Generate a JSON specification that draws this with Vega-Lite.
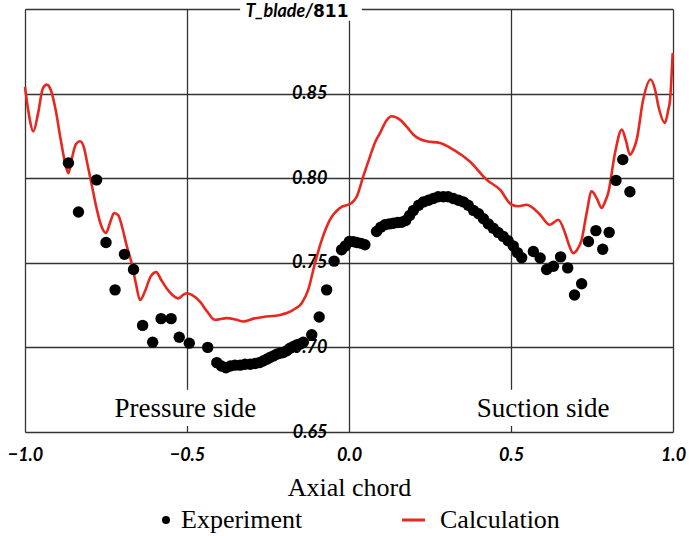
{
  "$schema": "https://vega.github.io/schema/vega-lite/v6.json",
  "width": 648,
  "height": 423,
  "autosize": {"type": "none"},
  "padding": {"left": 25, "top": 9, "right": 16, "bottom": 104},
  "background": "white",
  "config": {
    "view": {"stroke": null},
    "axis": {"gridColor": "#333333", "gridWidth": 1.3, "gridOpacity": 1, "ticks": false, "domain": false,
      "labelFont": "Lato", "labelFontWeight": "bold", "labelFontStyle": "italic", "labelFontSize": 18, "labelColor": "black"}
  },
  "datasets": {
    "exp": [
      {"chord": -0.866, "t": 0.809, "series": "Experiment"},
      {"chord": -0.835, "t": 0.780, "series": "Experiment"},
      {"chord": -0.779, "t": 0.799, "series": "Experiment"},
      {"chord": -0.750, "t": 0.762, "series": "Experiment"},
      {"chord": -0.722, "t": 0.734, "series": "Experiment"},
      {"chord": -0.693, "t": 0.755, "series": "Experiment"},
      {"chord": -0.665, "t": 0.746, "series": "Experiment"},
      {"chord": -0.637, "t": 0.713, "series": "Experiment"},
      {"chord": -0.606, "t": 0.703, "series": "Experiment"},
      {"chord": -0.580, "t": 0.717, "series": "Experiment"},
      {"chord": -0.549, "t": 0.717, "series": "Experiment"},
      {"chord": -0.524, "t": 0.706, "series": "Experiment"},
      {"chord": -0.493, "t": 0.7025, "series": "Experiment"},
      {"chord": -0.436, "t": 0.700, "series": "Experiment"},
      {"chord": -0.408, "t": 0.691, "series": "Experiment"},
      {"chord": -0.394, "t": 0.689, "series": "Experiment"},
      {"chord": -0.380, "t": 0.688, "series": "Experiment"},
      {"chord": -0.366, "t": 0.689, "series": "Experiment"},
      {"chord": -0.352, "t": 0.6895, "series": "Experiment"},
      {"chord": -0.336, "t": 0.6895, "series": "Experiment"},
      {"chord": -0.321, "t": 0.690, "series": "Experiment"},
      {"chord": -0.305, "t": 0.690, "series": "Experiment"},
      {"chord": -0.290, "t": 0.6905, "series": "Experiment"},
      {"chord": -0.277, "t": 0.691, "series": "Experiment"},
      {"chord": -0.265, "t": 0.692, "series": "Experiment"},
      {"chord": -0.254, "t": 0.693, "series": "Experiment"},
      {"chord": -0.244, "t": 0.694, "series": "Experiment"},
      {"chord": -0.233, "t": 0.695, "series": "Experiment"},
      {"chord": -0.223, "t": 0.696, "series": "Experiment"},
      {"chord": -0.213, "t": 0.6966, "series": "Experiment"},
      {"chord": -0.203, "t": 0.697, "series": "Experiment"},
      {"chord": -0.192, "t": 0.698, "series": "Experiment"},
      {"chord": -0.182, "t": 0.6995, "series": "Experiment"},
      {"chord": -0.171, "t": 0.7005, "series": "Experiment"},
      {"chord": -0.161, "t": 0.7015, "series": "Experiment"},
      {"chord": -0.150, "t": 0.702, "series": "Experiment"},
      {"chord": -0.141, "t": 0.703, "series": "Experiment"},
      {"chord": -0.115, "t": 0.7075, "series": "Experiment"},
      {"chord": -0.092, "t": 0.718, "series": "Experiment"},
      {"chord": -0.069, "t": 0.734, "series": "Experiment"},
      {"chord": -0.046, "t": 0.751, "series": "Experiment"},
      {"chord": -0.023, "t": 0.7577, "series": "Experiment"},
      {"chord": -0.011, "t": 0.760, "series": "Experiment"},
      {"chord": 0.001, "t": 0.7626, "series": "Experiment"},
      {"chord": 0.013, "t": 0.7625, "series": "Experiment"},
      {"chord": 0.024, "t": 0.762, "series": "Experiment"},
      {"chord": 0.037, "t": 0.7615, "series": "Experiment"},
      {"chord": 0.049, "t": 0.7607, "series": "Experiment"},
      {"chord": 0.085, "t": 0.7685, "series": "Experiment"},
      {"chord": 0.098, "t": 0.771, "series": "Experiment"},
      {"chord": 0.111, "t": 0.7725, "series": "Experiment"},
      {"chord": 0.124, "t": 0.773, "series": "Experiment"},
      {"chord": 0.137, "t": 0.7734, "series": "Experiment"},
      {"chord": 0.150, "t": 0.7738, "series": "Experiment"},
      {"chord": 0.162, "t": 0.774, "series": "Experiment"},
      {"chord": 0.175, "t": 0.775, "series": "Experiment"},
      {"chord": 0.187, "t": 0.778, "series": "Experiment"},
      {"chord": 0.199, "t": 0.781, "series": "Experiment"},
      {"chord": 0.215, "t": 0.784, "series": "Experiment"},
      {"chord": 0.230, "t": 0.786, "series": "Experiment"},
      {"chord": 0.245, "t": 0.787, "series": "Experiment"},
      {"chord": 0.260, "t": 0.788, "series": "Experiment"},
      {"chord": 0.275, "t": 0.789, "series": "Experiment"},
      {"chord": 0.291, "t": 0.789, "series": "Experiment"},
      {"chord": 0.306, "t": 0.789, "series": "Experiment"},
      {"chord": 0.322, "t": 0.788, "series": "Experiment"},
      {"chord": 0.338, "t": 0.787, "series": "Experiment"},
      {"chord": 0.353, "t": 0.786, "series": "Experiment"},
      {"chord": 0.368, "t": 0.784, "series": "Experiment"},
      {"chord": 0.384, "t": 0.781, "series": "Experiment"},
      {"chord": 0.400, "t": 0.779, "series": "Experiment"},
      {"chord": 0.415, "t": 0.776, "series": "Experiment"},
      {"chord": 0.430, "t": 0.773, "series": "Experiment"},
      {"chord": 0.445, "t": 0.7705, "series": "Experiment"},
      {"chord": 0.460, "t": 0.768, "series": "Experiment"},
      {"chord": 0.476, "t": 0.7656, "series": "Experiment"},
      {"chord": 0.491, "t": 0.763, "series": "Experiment"},
      {"chord": 0.507, "t": 0.760, "series": "Experiment"},
      {"chord": 0.520, "t": 0.756, "series": "Experiment"},
      {"chord": 0.533, "t": 0.753, "series": "Experiment"},
      {"chord": 0.569, "t": 0.7567, "series": "Experiment"},
      {"chord": 0.590, "t": 0.7528, "series": "Experiment"},
      {"chord": 0.610, "t": 0.746, "series": "Experiment"},
      {"chord": 0.631, "t": 0.748, "series": "Experiment"},
      {"chord": 0.653, "t": 0.7535, "series": "Experiment"},
      {"chord": 0.675, "t": 0.747, "series": "Experiment"},
      {"chord": 0.696, "t": 0.731, "series": "Experiment"},
      {"chord": 0.718, "t": 0.7376, "series": "Experiment"},
      {"chord": 0.739, "t": 0.7626, "series": "Experiment"},
      {"chord": 0.762, "t": 0.769, "series": "Experiment"},
      {"chord": 0.783, "t": 0.758, "series": "Experiment"},
      {"chord": 0.803, "t": 0.768, "series": "Experiment"},
      {"chord": 0.824, "t": 0.7987, "series": "Experiment"},
      {"chord": 0.845, "t": 0.811, "series": "Experiment"},
      {"chord": 0.867, "t": 0.792, "series": "Experiment"}
    ],
    "calc": [
      {"chord": -1.000, "t": 0.854, "series": "Calculation"},
      {"chord": -0.990, "t": 0.840, "series": "Calculation"},
      {"chord": -0.974, "t": 0.8277, "series": "Calculation"},
      {"chord": -0.960, "t": 0.838, "series": "Calculation"},
      {"chord": -0.945, "t": 0.853, "series": "Calculation"},
      {"chord": -0.933, "t": 0.8553, "series": "Calculation"},
      {"chord": -0.920, "t": 0.852, "series": "Calculation"},
      {"chord": -0.905, "t": 0.840, "series": "Calculation"},
      {"chord": -0.890, "t": 0.823, "series": "Calculation"},
      {"chord": -0.875, "t": 0.808, "series": "Calculation"},
      {"chord": -0.866, "t": 0.803, "series": "Calculation"},
      {"chord": -0.855, "t": 0.812, "series": "Calculation"},
      {"chord": -0.843, "t": 0.820, "series": "Calculation"},
      {"chord": -0.830, "t": 0.8218, "series": "Calculation"},
      {"chord": -0.818, "t": 0.818, "series": "Calculation"},
      {"chord": -0.808, "t": 0.809, "series": "Calculation"},
      {"chord": -0.795, "t": 0.797, "series": "Calculation"},
      {"chord": -0.780, "t": 0.783, "series": "Calculation"},
      {"chord": -0.765, "t": 0.772, "series": "Calculation"},
      {"chord": -0.750, "t": 0.7676, "series": "Calculation"},
      {"chord": -0.737, "t": 0.774, "series": "Calculation"},
      {"chord": -0.725, "t": 0.7794, "series": "Calculation"},
      {"chord": -0.712, "t": 0.778, "series": "Calculation"},
      {"chord": -0.700, "t": 0.771, "series": "Calculation"},
      {"chord": -0.686, "t": 0.760, "series": "Calculation"},
      {"chord": -0.671, "t": 0.7498, "series": "Calculation"},
      {"chord": -0.658, "t": 0.738, "series": "Calculation"},
      {"chord": -0.645, "t": 0.728, "series": "Calculation"},
      {"chord": -0.630, "t": 0.733, "series": "Calculation"},
      {"chord": -0.612, "t": 0.742, "series": "Calculation"},
      {"chord": -0.595, "t": 0.7445, "series": "Calculation"},
      {"chord": -0.580, "t": 0.740, "series": "Calculation"},
      {"chord": -0.563, "t": 0.735, "series": "Calculation"},
      {"chord": -0.545, "t": 0.731, "series": "Calculation"},
      {"chord": -0.527, "t": 0.729, "series": "Calculation"},
      {"chord": -0.512, "t": 0.731, "series": "Calculation"},
      {"chord": -0.500, "t": 0.732, "series": "Calculation"},
      {"chord": -0.485, "t": 0.731, "series": "Calculation"},
      {"chord": -0.460, "t": 0.727, "series": "Calculation"},
      {"chord": -0.437, "t": 0.721, "series": "Calculation"},
      {"chord": -0.414, "t": 0.7163, "series": "Calculation"},
      {"chord": -0.377, "t": 0.7173, "series": "Calculation"},
      {"chord": -0.350, "t": 0.7165, "series": "Calculation"},
      {"chord": -0.326, "t": 0.7153, "series": "Calculation"},
      {"chord": -0.295, "t": 0.717, "series": "Calculation"},
      {"chord": -0.265, "t": 0.718, "series": "Calculation"},
      {"chord": -0.213, "t": 0.7192, "series": "Calculation"},
      {"chord": -0.172, "t": 0.7222, "series": "Calculation"},
      {"chord": -0.146, "t": 0.7261, "series": "Calculation"},
      {"chord": -0.126, "t": 0.734, "series": "Calculation"},
      {"chord": -0.105, "t": 0.7498, "series": "Calculation"},
      {"chord": -0.084, "t": 0.7636, "series": "Calculation"},
      {"chord": -0.059, "t": 0.7754, "series": "Calculation"},
      {"chord": -0.028, "t": 0.7824, "series": "Calculation"},
      {"chord": 0.008, "t": 0.7853, "series": "Calculation"},
      {"chord": 0.024, "t": 0.7892, "series": "Calculation"},
      {"chord": 0.044, "t": 0.8011, "series": "Calculation"},
      {"chord": 0.065, "t": 0.8129, "series": "Calculation"},
      {"chord": 0.080, "t": 0.821, "series": "Calculation"},
      {"chord": 0.096, "t": 0.8268, "series": "Calculation"},
      {"chord": 0.115, "t": 0.834, "series": "Calculation"},
      {"chord": 0.132, "t": 0.8366, "series": "Calculation"},
      {"chord": 0.157, "t": 0.8346, "series": "Calculation"},
      {"chord": 0.180, "t": 0.830, "series": "Calculation"},
      {"chord": 0.199, "t": 0.8257, "series": "Calculation"},
      {"chord": 0.220, "t": 0.823, "series": "Calculation"},
      {"chord": 0.240, "t": 0.8218, "series": "Calculation"},
      {"chord": 0.281, "t": 0.8208, "series": "Calculation"},
      {"chord": 0.322, "t": 0.8169, "series": "Calculation"},
      {"chord": 0.373, "t": 0.8099, "series": "Calculation"},
      {"chord": 0.425, "t": 0.7991, "series": "Calculation"},
      {"chord": 0.466, "t": 0.7932, "series": "Calculation"},
      {"chord": 0.502, "t": 0.7843, "series": "Calculation"},
      {"chord": 0.523, "t": 0.7834, "series": "Calculation"},
      {"chord": 0.548, "t": 0.7843, "series": "Calculation"},
      {"chord": 0.574, "t": 0.7814, "series": "Calculation"},
      {"chord": 0.590, "t": 0.7784, "series": "Calculation"},
      {"chord": 0.620, "t": 0.7725, "series": "Calculation"},
      {"chord": 0.646, "t": 0.7754, "series": "Calculation"},
      {"chord": 0.667, "t": 0.7675, "series": "Calculation"},
      {"chord": 0.680, "t": 0.760, "series": "Calculation"},
      {"chord": 0.692, "t": 0.7557, "series": "Calculation"},
      {"chord": 0.705, "t": 0.758, "series": "Calculation"},
      {"chord": 0.718, "t": 0.7636, "series": "Calculation"},
      {"chord": 0.733, "t": 0.779, "series": "Calculation"},
      {"chord": 0.749, "t": 0.7922, "series": "Calculation"},
      {"chord": 0.765, "t": 0.788, "series": "Calculation"},
      {"chord": 0.780, "t": 0.7824, "series": "Calculation"},
      {"chord": 0.790, "t": 0.786, "series": "Calculation"},
      {"chord": 0.800, "t": 0.7912, "series": "Calculation"},
      {"chord": 0.821, "t": 0.8149, "series": "Calculation"},
      {"chord": 0.842, "t": 0.8287, "series": "Calculation"},
      {"chord": 0.855, "t": 0.822, "series": "Calculation"},
      {"chord": 0.867, "t": 0.8139, "series": "Calculation"},
      {"chord": 0.878, "t": 0.817, "series": "Calculation"},
      {"chord": 0.888, "t": 0.8228, "series": "Calculation"},
      {"chord": 0.908, "t": 0.8465, "series": "Calculation"},
      {"chord": 0.931, "t": 0.8583, "series": "Calculation"},
      {"chord": 0.945, "t": 0.852, "series": "Calculation"},
      {"chord": 0.955, "t": 0.8425, "series": "Calculation"},
      {"chord": 0.975, "t": 0.8327, "series": "Calculation"},
      {"chord": 0.985, "t": 0.840, "series": "Calculation"},
      {"chord": 0.991, "t": 0.8465, "series": "Calculation"},
      {"chord": 0.999, "t": 0.874, "series": "Calculation"}
    ]
  },
  "layer": [
    {
      "data": {"name": "calc"},
      "mark": {"type": "line", "interpolate": "monotone", "strokeWidth": 2.6},
      "encoding": {
        "x": {"field": "chord", "type": "quantitative",
          "scale": {"domain": [-1, 1], "nice": false, "zero": false},
          "axis": {"values": [-1, -0.5, 0, 0.5, 1], "format": ".1f", "labelFlush": false, "labelPadding": 14,
            "grid": true, "title": "Axial chord", "titleFont": "Liberation Serif", "titleFontSize": 26,
            "titleFontWeight": "normal", "titleColor": "black", "titlePadding": 10}},
        "y": {"field": "t", "type": "quantitative",
          "scale": {"domain": [0.65, 0.90], "nice": false, "zero": false},
          "axis": {"values": [0.65, 0.70, 0.75, 0.80, 0.85, 0.9], "offset": -324, "labelPadding": 22,
            "labelExpr": "datum.value > 0.875 ? '' : format(datum.value, '.2f')", "grid": true, "title": null}},
        "color": {"field": "series", "type": "nominal",
          "scale": {"domain": ["Experiment", "Calculation"], "range": ["#000000", "#e8281e"]},
          "legend": {"orient": "none", "legendX": 118, "legendY": 498, "direction": "horizontal", "title": null,
            "labelFont": "Liberation Serif", "labelFontSize": 26, "labelColor": "black", "columnPadding": 93,
            "symbolSize": 529, "symbolStrokeWidth": 3, "labelOffset": 12,
            "encode": {"symbols": {"update": {
              "shape": {"signal": "datum.value === 'Calculation' ? 'stroke' : 'circle'"},
              "size": {"signal": "datum.value === 'Calculation' ? 529 : 64"},
              "xc": {"signal": "datum.value === 'Calculation' ? 11.5 : 23"},
              "strokeWidth": {"signal": "datum.value === 'Calculation' ? 3 : 0"},
              "fill": {"signal": "datum.value === 'Calculation' ? 'transparent' : 'black'"},
              "stroke": {"signal": "datum.value === 'Calculation' ? '#e8281e' : 'black'"},
              "opacity": {"value": 1}}}}}}
      }
    },
    {
      "data": {"name": "exp"},
      "mark": {"type": "point", "filled": true, "size": 130, "opacity": 1},
      "encoding": {
        "x": {"field": "chord", "type": "quantitative"},
        "y": {"field": "t", "type": "quantitative"},
        "color": {"field": "series", "type": "nominal"}}
    },
    {
      "data": {"values": [{"box": "title"}]},
      "mark": {"type": "rect", "color": "white", "opacity": 1},
      "encoding": {"x": {"datum": -0.336, "type": "quantitative"}, "x2": {"datum": 0.04}, "y": {"datum": 0.908, "type": "quantitative"}, "y2": {"datum": 0.893}}
    },
    {
      "data": {"values": [{"box": "pressure"}]},
      "mark": {"type": "rect", "color": "white", "opacity": 1},
      "encoding": {"x": {"datum": -0.744, "type": "quantitative"}, "x2": {"datum": -0.269}, "y": {"datum": 0.6749, "type": "quantitative"}, "y2": {"datum": 0.6536}}
    },
    {
      "data": {"values": [{"box": "suction"}]},
      "mark": {"type": "rect", "color": "white", "opacity": 1},
      "encoding": {"x": {"datum": 0.392, "type": "quantitative"}, "x2": {"datum": 0.812}, "y": {"datum": 0.6749, "type": "quantitative"}, "y2": {"datum": 0.6536}}
    },
    {
      "data": {"values": [{"label": "T_blade/"}]},
      "mark": {"type": "text", "font": "Lato", "fontSize": 18, "fontWeight": "bold", "fontStyle": "italic", "color": "black", "align": "right", "baseline": "middle"},
      "encoding": {"x": {"datum": -0.111, "type": "quantitative"}, "y": {"datum": 0.898, "type": "quantitative"}, "text": {"field": "label"}}
    },
    {
      "data": {"values": [{"label": "811"}]},
      "mark": {"type": "text", "font": "DejaVu Sans", "fontSize": 17, "fontWeight": "bold", "color": "black", "align": "left", "baseline": "middle"},
      "encoding": {"x": {"datum": -0.111, "type": "quantitative"}, "y": {"datum": 0.898, "type": "quantitative"}, "text": {"field": "label"}}
    },
    {
      "data": {"values": [{"label": "Pressure side"}]},
      "mark": {"type": "text", "font": "Liberation Serif", "fontSize": 27, "color": "black", "align": "center", "baseline": "middle"},
      "encoding": {"x": {"datum": -0.505, "type": "quantitative"}, "y": {"datum": 0.6635, "type": "quantitative"}, "text": {"field": "label"}}
    },
    {
      "data": {"values": [{"label": "Suction side"}]},
      "mark": {"type": "text", "font": "Liberation Serif", "fontSize": 27, "color": "black", "align": "center", "baseline": "middle"},
      "encoding": {"x": {"datum": 0.599, "type": "quantitative"}, "y": {"datum": 0.6635, "type": "quantitative"}, "text": {"field": "label"}}
    }
  ]
}
